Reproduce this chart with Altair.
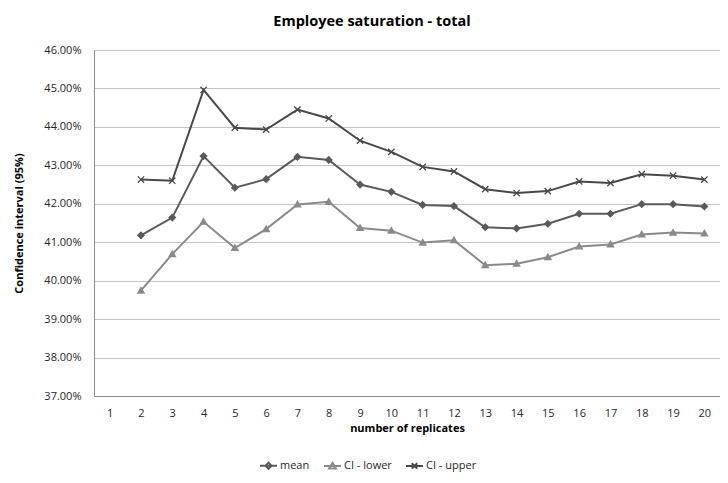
import altair as alt
import pandas as pd

categories = list(range(1, 21))
replicates = list(range(2, 21))
mean = [41.18, 41.64, 43.24, 42.42, 42.64, 43.22, 43.14, 42.50, 42.31, 41.97,
        41.94, 41.39, 41.36, 41.48, 41.74, 41.74, 41.99, 41.99, 41.93]
ci_lower = [39.74, 40.69, 41.53, 40.85, 41.34, 41.98, 42.05, 41.37, 41.30, 40.99,
            41.05, 40.40, 40.44, 40.61, 40.89, 40.94, 41.20, 41.25, 41.23]
ci_upper = [42.63, 42.60, 44.96, 43.98, 43.93, 44.45, 44.22, 43.64, 43.35, 42.96,
            42.84, 42.38, 42.28, 42.33, 42.58, 42.54, 42.77, 42.73, 42.63]
y_ticks = [0.37, 0.38, 0.39, 0.40, 0.41, 0.42, 0.43, 0.44, 0.45, 0.46]

series_names = ["mean", "CI - lower", "CI - upper"]
series_colors = ["#5a5a5a", "#8a8a8a", "#484848"]
marker_paths = [
    "M0,-1L1,0L0,1L-1,0Z",
    "M0,-1L1,0.75L-1,0.75Z",
    "M-1,-1L1,1M-1,1L1,-1",
]
legend_paths = [
    "M-1,0L1,0M0,-0.36L0.36,0L0,0.36L-0.36,0Z",
    "M-1,0L1,0M0,-0.38L0.4,0.28L-0.4,0.28Z",
    "M-1,0L1,0M-0.32,-0.32L0.32,0.32M-0.32,0.32L0.32,-0.32",
]

rows = []
for name, vals in zip(series_names, [mean, ci_lower, ci_upper]):
    for r, v in zip(replicates, vals):
        rows.append({"replicates": r, "value": v / 100.0, "series": name})
df = pd.DataFrame(rows)

FONT = "Open Sans"

x_enc = alt.X(
    "replicates:O",
    scale=alt.Scale(domain=categories),
    axis=alt.Axis(
        title="number of replicates",
        labelAngle=0,
        ticks=False,
        domain=True,
        domainColor="#8c8c8c",
        grid=False,
        labelPadding=11,
        titlePadding=4,
        labelFontSize=11,
        titleFontSize=11,
        labelFont=FONT,
        titleFont=FONT,
        labelColor="#262626",
        titleColor="#000000",
        titleFontWeight="bold",
    ),
)
y_enc = alt.Y(
    "value:Q",
    scale=alt.Scale(domain=[0.37, 0.46], nice=False, zero=False),
    axis=alt.Axis(
        title="Confidence interval (95%)",
        format=".2%",
        values=y_ticks,
        ticks=False,
        domain=True,
        domainColor="#8c8c8c",
        grid=True,
        gridColor="#c4c4c4",
        gridWidth=1,
        labelPadding=13,
        titlePadding=19,
        labelFontSize=11,
        titleFontSize=11,
        labelFont=FONT,
        titleFont=FONT,
        labelColor="#262626",
        titleColor="#000000",
        titleFontWeight="bold",
    ),
)

color_scale = alt.Scale(domain=series_names, range=series_colors)

lines = alt.Chart(df).mark_line(strokeWidth=2).encode(
    x=x_enc,
    y=y_enc,
    color=alt.Color("series:N", scale=color_scale, legend=None),
)

points = alt.Chart(df).mark_point(filled=True, strokeWidth=1.3, opacity=1, size=40).encode(
    x=x_enc,
    y=y_enc,
    color=alt.Color("series:N", scale=color_scale, legend=None),
    stroke=alt.Stroke("series:N", scale=color_scale, legend=None),
    shape=alt.Shape("series:N", scale=alt.Scale(domain=series_names, range=marker_paths), legend=None),
)

legend_props = dict(
    title=None,
    orient="none",
    direction="horizontal",
    legendX=165,
    legendY=406,
    symbolSize=289,
    symbolOpacity=1,
    symbolStrokeWidth=2,
    labelFont=FONT,
    labelFontSize=11,
    labelColor="#262626",
    labelOffset=2,
    columnPadding=10,
)

legend_layer = alt.Chart(df).mark_point(filled=False, opacity=0, strokeWidth=2).encode(
    x=x_enc,
    y=y_enc,
    color=alt.Color("series:N", scale=color_scale, legend=alt.Legend(**legend_props)),
    shape=alt.Shape(
        "series:N",
        scale=alt.Scale(domain=series_names, range=legend_paths),
        legend=alt.Legend(**legend_props),
    ),
)

chart = (
    alt.layer(lines, points, legend_layer)
    .resolve_scale(shape="independent", color="independent", stroke="independent")
    .properties(
        width=626,
        height=346,
        title=alt.TitleParams(
            text="Employee saturation - total",
            font=FONT,
            fontSize=14.5,
            fontWeight="bold",
            color="#000000",
            anchor="middle",
            dx=-35,
            offset=15,
        ),
        autosize=alt.AutoSizeParams(type="none"),
        padding={"left": 86, "top": 42, "right": 0, "bottom": 78},
    )
    .configure_view(stroke=None)
    .configure(background="#ffffff")
)

chart.save("out.html", embed_options={"renderer": "svg", "actions": False})
